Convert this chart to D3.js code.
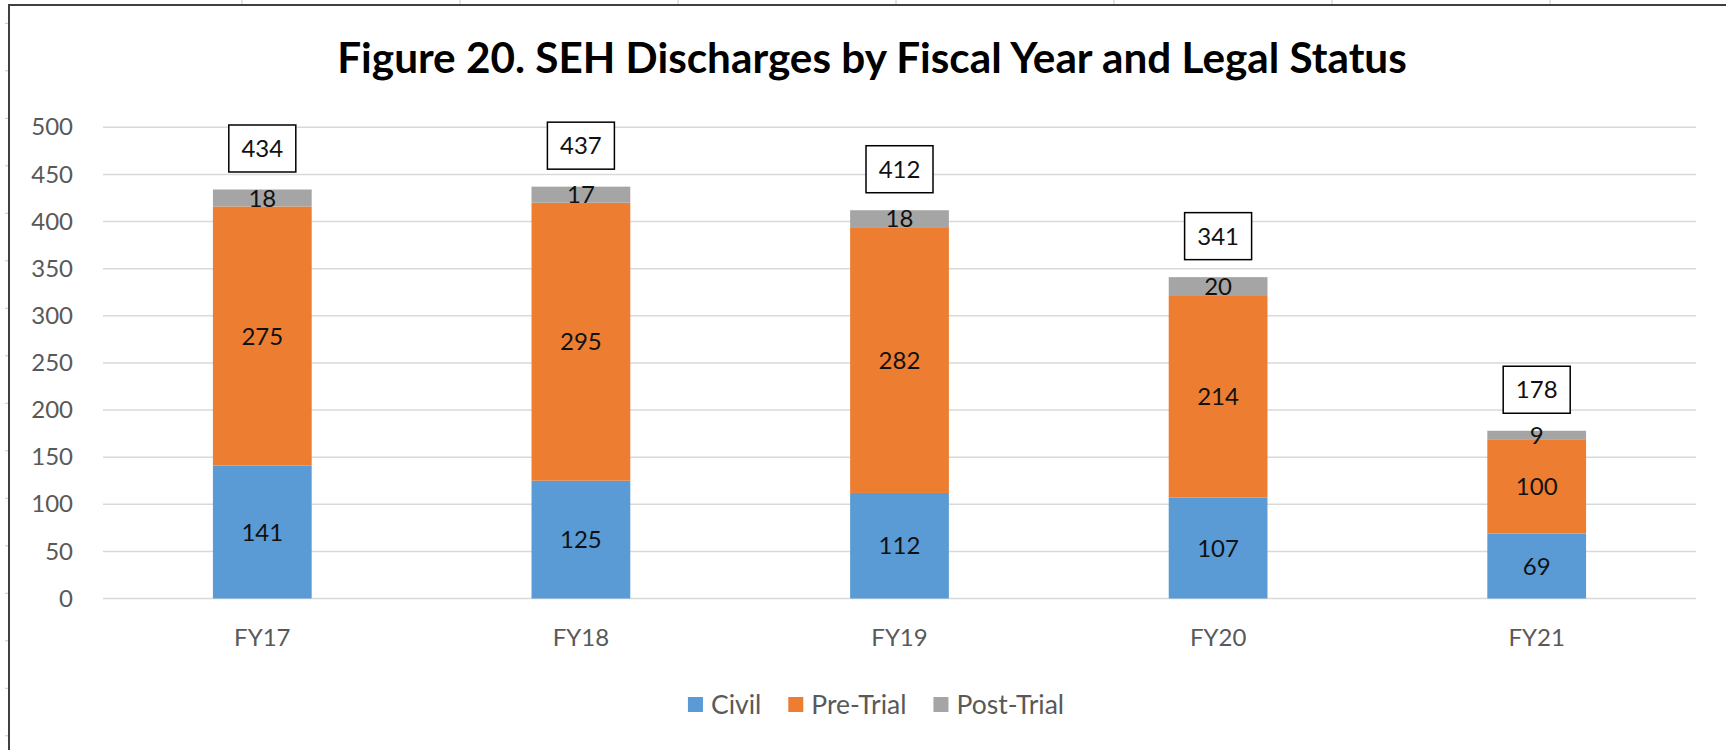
<!DOCTYPE html>
<html>
<head>
<meta charset="utf-8">
<script src="https://cdn.jsdelivr.net/npm/d3@7"></script>
<style>
    body { margin: 0; background: #fff; }
    svg { display: block; font-family: Lato, "Open Sans", sans-serif; }
</style>
</head>
<body>
<div id="container"></div>
<script>

// Chart data
var years = ["FY17", "FY18", "FY19", "FY20", "FY21"];
var civil = [141, 125, 112, 107, 69];
var preTrial = [275, 295, 282, 214, 100];
var postTrial = [18, 17, 18, 20, 9];
var seriesNames = ["Civil", "Pre-Trial", "Post-Trial"];
var yTicks = [0, 50, 100, 150, 200, 250, 300, 350, 400, 450, 500];
var chartTitle = "Figure 20. SEH Discharges by Fiscal Year and Legal Status";

var width = 1726,
    height = 750;

var plot = {left: 103, right: 1696, top: 127.3, bottom: 598.5};

var colors = ["#5b9bd5", "#ed7d31", "#a5a5a5"];


function translation(x, y) {
    return "translate(" + x + "," + y + ")";
}


function createChart() {

    var svg = d3.select("#container").append("svg")
        .attr("width", width)
        .attr("height", height);

    // Spreadsheet cell marks peeking outside the chart frame
    var cellTicks = svg.append("g")
        .attr("stroke", "#c8c8c8")
        .attr("stroke-width", 1);

    cellTicks.selectAll(".ctop")
        .data(d3.range(242, width, 218))
        .enter().append("line")
        .attr("x1", function(d) { return d; })
        .attr("x2", function(d) { return d; })
        .attr("y1", 0)
        .attr("y2", 4);

    cellTicks.selectAll(".cleft")
        .data(d3.range(23.3, height, 47.5))
        .enter().append("line")
        .attr("x1", 5)
        .attr("x2", 8)
        .attr("y1", function(d) { return d; })
        .attr("y2", function(d) { return d; });

    // Chart frame (only top and left edges are in view)
    svg.append("path")
        .attr("d", "M9," + height + "V5H" + width)
        .attr("fill", "none")
        .attr("stroke", "#404040")
        .attr("stroke-width", 2);

    // Title
    var title = svg.append("text")
        .attr("x", 872)
        .attr("y", 73)
        .style("text-anchor", "middle")
        .style("font-weight", "bold")
        .style("font-size", "35px")
        .style("fill", "#000")
        .text(chartTitle);

    // fit title to the width it has in the figure
    var tw = title.node().getComputedTextLength();
    title.style("font-size", (35 * 1070 / tw).toFixed(2) + "px");

    // Scales
    var x = d3.scaleBand()
        .domain(years)
        .range([plot.left, plot.right])
        .padding(0);

    var y = d3.scaleLinear()
        .domain([0, 500])
        .range([plot.bottom, plot.top]);

    var color = d3.scaleOrdinal()
        .domain(seriesNames)
        .range(colors);

    var barWidth = x.bandwidth() * 0.31;

    // Gridlines
    svg.append("g")
        .selectAll("line")
        .data(yTicks)
        .enter().append("line")
        .attr("x1", plot.left)
        .attr("x2", plot.right)
        .attr("y1", function(d) { return y(d); })
        .attr("y2", function(d) { return y(d); })
        .attr("stroke", "#d9d9d9")
        .attr("stroke-width", 1.5);

    // Y axis
    var yAxis = d3.axisLeft(y)
        .tickValues(yTicks)
        .tickSize(0)
        .tickPadding(30);

    svg.append("g")
        .attr("class", "y axis")
        .attr("transform", translation(plot.left, 0))
        .call(yAxis)
        .call(function(g) { g.select(".domain").remove(); })
        .selectAll("text")
        .style("font-size", "24px")
        .style("font-family", "Lato, sans-serif")
        .style("fill", "#595959");

    // X axis
    var xAxis = d3.axisBottom(x)
        .tickSize(0)
        .tickPadding(30);

    svg.append("g")
        .attr("class", "x axis")
        .attr("transform", translation(0, plot.bottom))
        .call(xAxis)
        .call(function(g) { g.select(".domain").remove(); })
        .selectAll("text")
        .style("font-size", "24px")
        .style("font-family", "Lato, sans-serif")
        .style("fill", "#595959");

    // Stack the series
    var rows = years.map(function(yr, i) {
        return {year: yr, "Civil": civil[i], "Pre-Trial": preTrial[i], "Post-Trial": postTrial[i]};
    });

    var stacked = d3.stack().keys(seriesNames)(rows);

    var layer = svg.selectAll(".layer")
        .data(stacked)
        .enter().append("g")
        .attr("class", "layer")
        .style("fill", function(d) { return color(d.key); });

    layer.selectAll("rect")
        .data(function(d) { return d; })
        .enter().append("rect")
        .attr("x", function(d) { return x(d.data.year) + (x.bandwidth() - barWidth) / 2; })
        .attr("y", function(d) { return y(d[1]); })
        .attr("width", barWidth)
        .attr("height", function(d) { return y(d[0]) - y(d[1]); });

    // Segment labels
    layer.selectAll("text")
        .data(function(d) { return d; })
        .enter().append("text")
        .attr("x", function(d) { return x(d.data.year) + x.bandwidth() / 2; })
        .attr("y", function(d) { return (y(d[0]) + y(d[1])) / 2; })
        .attr("dy", "0.36em")
        .style("text-anchor", "middle")
        .style("font-size", "24px")
        .style("fill", "#111")
        .text(function(d) { return d[1] - d[0]; });

    // Totals in boxes above each bar
    var totals = svg.selectAll(".total")
        .data(rows)
        .enter().append("g")
        .attr("class", "total")
        .attr("transform", function(d) {
            var sum = d["Civil"] + d["Pre-Trial"] + d["Post-Trial"];
            return translation(x(d.year) + x.bandwidth() / 2, y(sum) - 41);
        });

    totals.append("rect")
        .attr("x", -33.5)
        .attr("y", -23.5)
        .attr("width", 67)
        .attr("height", 47)
        .attr("fill", "#fff")
        .attr("stroke", "#000")
        .attr("stroke-width", 1.5);

    totals.append("text")
        .attr("dy", "0.36em")
        .style("text-anchor", "middle")
        .style("font-size", "24px")
        .style("fill", "#111")
        .text(function(d) { return d["Civil"] + d["Pre-Trial"] + d["Post-Trial"]; });

    // Legend
    var legend = svg.append("g")
        .attr("class", "legend");

    var items = legend.selectAll("g")
        .data(seriesNames)
        .enter().append("g");

    items.append("rect")
        .attr("y", -7.5)
        .attr("width", 15)
        .attr("height", 15)
        .style("fill", function(d) { return color(d); });

    items.append("text")
        .attr("x", 23)
        .attr("dy", "0.36em")
        .style("font-size", "26.5px")
        .style("fill", "#595959")
        .text(function(d) { return d; });

    // lay out legend entries one after another and center the group
    var offset = 0;
    items.each(function() {
        var g = d3.select(this);
        var w = 23 + g.select("text").node().getComputedTextLength();
        g.attr("transform", translation(offset, 0));
        offset += w + 27;
    });
    var legendWidth = offset - 27;
    legend.attr("transform", translation(876 - legendWidth / 2, 704.5));
}

createChart();

</script>
</body>
</html>
